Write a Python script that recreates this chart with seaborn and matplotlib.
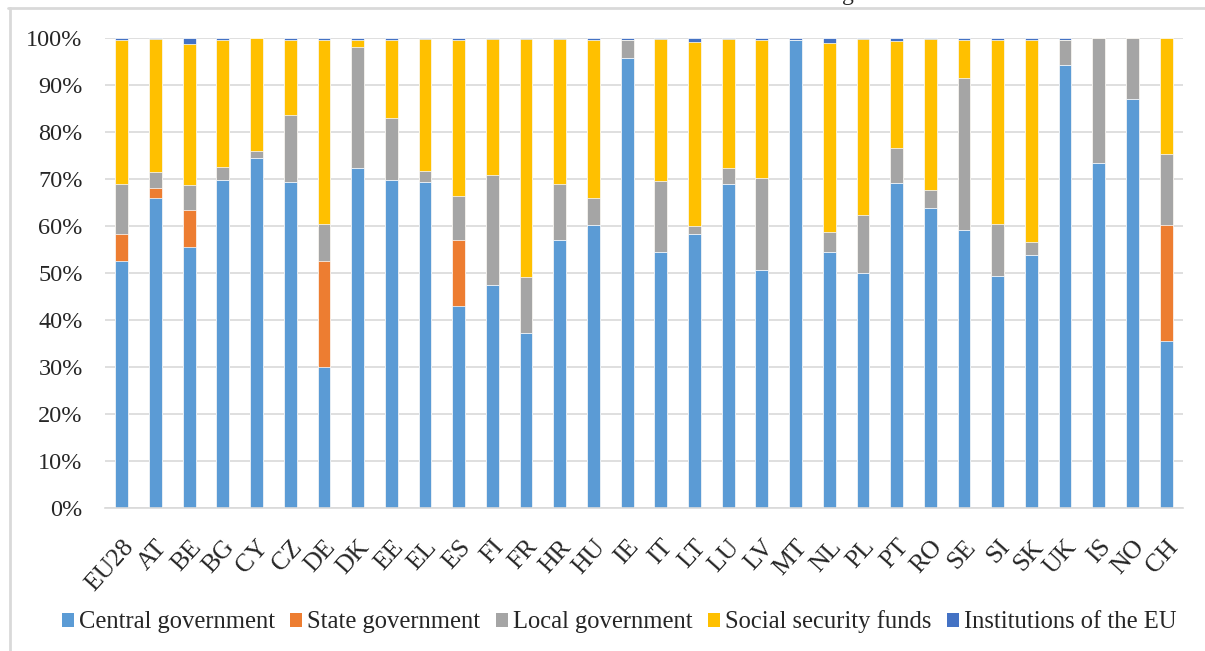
import numpy as np
import pandas as pd
import matplotlib.pyplot as plt
from matplotlib.lines import Line2D
from matplotlib.patches import Patch
from matplotlib.ticker import PercentFormatter
import seaborn as sns

sns.set_style("white")
plt.rcParams['font.family'] = ['Liberation Serif', 'DejaVu Serif']

# Dados (% do total, por subsetor)
paises = ['EU28', 'AT', 'BE', 'BG', 'CY', 'CZ', 'DE', 'DK', 'EE', 'EL', 'ES', 'FI', 'FR', 'HR',
          'HU', 'IE', 'IT', 'LT', 'LU', 'LV', 'MT', 'NL', 'PL', 'PT', 'RO', 'SE', 'SI', 'SK',
          'UK', 'IS', 'NO', 'CH']
central = [52.6, 66.0, 55.5, 69.7, 74.5, 69.3, 30.0, 72.3, 69.7, 69.3, 43.0, 47.5, 37.3, 57.0,
           60.3, 95.8, 54.5, 58.3, 69.0, 50.7, 99.5, 54.5, 49.9, 69.2, 63.9, 59.2, 49.4, 53.8,
           94.2, 73.3, 87.0, 35.5]
estadual = [5.7, 2.0, 8.0, 0, 0, 0, 22.5, 0, 0, 0, 14.0, 0, 0, 0,
            0, 0, 0, 0, 0, 0, 0, 0, 0, 0, 0, 0, 0, 0,
            0, 0, 0, 24.7]
local = [10.6, 3.5, 5.3, 2.8, 1.5, 14.4, 8.0, 25.7, 13.3, 2.4, 9.3, 23.3, 11.9, 12.0,
         5.7, 3.7, 15.1, 1.7, 3.3, 19.5, 0, 4.2, 12.5, 7.5, 3.7, 32.2, 11.1, 2.7,
         5.3, 26.7, 13.0, 15.1]
seguridade = [30.6, 28.2, 29.9, 27.0, 24.0, 15.8, 39.0, 1.5, 16.5, 28.0, 33.2, 28.9, 50.5, 30.7,
              33.5, 0, 30.1, 39.2, 27.4, 29.3, 0, 40.3, 37.3, 22.6, 32.1, 8.1, 39.0, 43.0,
              0, 0, 0, 24.7]
instituicoes_ue = [0.5, 0.3, 1.3, 0.5, 0, 0.5, 0.5, 0.5, 0.5, 0.3, 0.5, 0.3, 0.3, 0.3,
                   0.5, 0.5, 0.3, 0.8, 0.3, 0.5, 0.5, 1.0, 0.3, 0.7, 0.3, 0.5, 0.5, 0.5,
                   0.5, 0, 0, 0]

series = ['Central government', 'State government', 'Local government',
          'Social security funds', 'Institutions of the EU']
cores = ['#5B9BD5', '#ED7D31', '#A5A5A5', '#FFC000', '#4472C4']

df = pd.DataFrame({'pais': paises, series[0]: central, series[1]: estadual,
                   series[2]: local, series[3]: seguridade, series[4]: instituicoes_ue})
acum = df[series].cumsum(axis=1)

fig = plt.figure(figsize=(12.05, 6.51), dpi=100)
ax = fig.add_axes([0.0871, 0.2197, 0.8946, 0.7219])

# empilhado: desenha do acumulado maior para o menor
for serie, cor in reversed(list(zip(series, cores))):
    sns.barplot(x=df['pais'], y=acum[serie], color=cor, saturation=1, width=0.38,
                edgecolor='white', linewidth=0.5, ax=ax)

ax.set_xlim(-0.5, len(paises) - 0.5)
ax.set_ylim(0, 100)
ax.set_yticks(np.arange(0, 101, 10))
ax.yaxis.set_major_formatter(PercentFormatter(xmax=100, decimals=0))
ax.grid(axis='y', color='#D9D9D9', linewidth=1.2)
ax.set_axisbelow(True)
ax.set_xlabel('')
ax.set_ylabel('')
for lado in ['top', 'right', 'left']:
    ax.spines[lado].set_visible(False)
ax.spines['bottom'].set_color('#D9D9D9')
ax.spines['bottom'].set_linewidth(1.2)
ax.tick_params(axis='y', length=0, pad=16, labelsize=17.5)
ax.tick_params(axis='x', length=0, pad=20, labelsize=18.5)
ax.set_xticks(range(len(paises)))
ax.set_xticklabels(paises, rotation=48, ha='right', rotation_mode='anchor')

handles = [Patch(facecolor=c, edgecolor='none') for c in cores]
fig.legend(handles, series, loc='center', bbox_to_anchor=(619 / 1205, 1 - 622 / 651),
           ncol=5, frameon=False, fontsize=17.7, handlelength=0.5, handleheight=0.5,
           handletextpad=0.2, columnspacing=0.62)

# moldura e título cortado
fig.add_artist(Line2D([8 / 1205, 1], [1 - 8 / 651, 1 - 8 / 651], color='#D9D9D9', lw=2))
fig.add_artist(Line2D([10 / 1205, 10 / 1205], [0, 1 - 8 / 651], color='#D9D9D9', lw=2))
fig.text(848 / 1205, 1.0, 'g', ha='center', va='baseline', fontsize=17)

fig.savefig('out.png', dpi=100)
